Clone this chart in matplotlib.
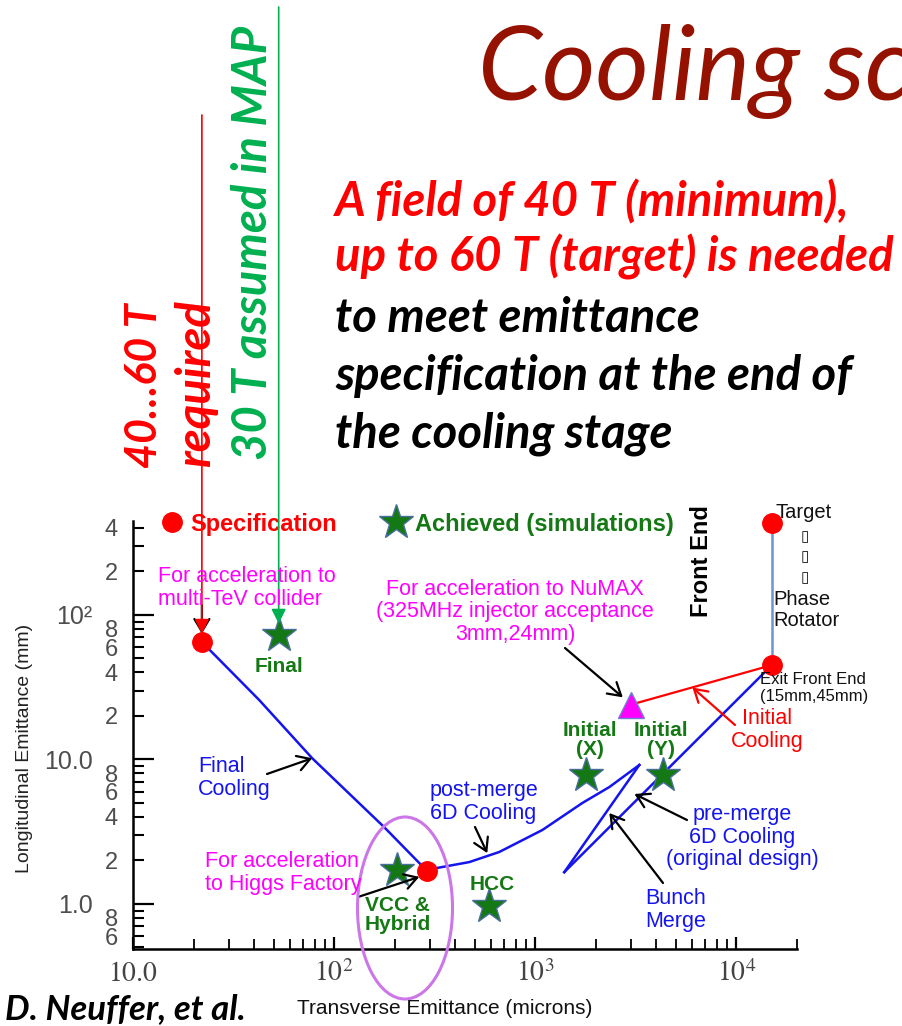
import numpy as np
import matplotlib.pyplot as plt
from matplotlib.patches import Ellipse
from matplotlib.ticker import FixedLocator, FixedFormatter

plt.rcParams['mathtext.fontset'] = 'stix'

W, H = 902, 1026

# --- cooling path: transverse emittance (microns) vs longitudinal emittance (mm) ---
front_x = [15000, 15000]          # target -> exit front end (phase rotator)
front_y = [430, 45]
pre_x = [15000, 1393]             # pre-merge 6D cooling
pre_y = [45, 1.66]
merge_x = [1393, 3290]            # bunch merge
merge_y = [1.66, 9.16]
post_x = [3290, 2336, 1714, 1084, 662, 470, 321, 290]   # post-merge 6D cooling
post_y = [9.16, 6.45, 5.0, 3.25, 2.29, 1.95, 1.77, 1.7]
final_x = [290, 271, 177, 77.8, 42.4, 22]               # final cooling
final_y = [1.7, 1.86, 3.41, 10.2, 25.8, 65]
init_x = [15000, 3000]            # initial cooling
init_y = [45, 24]

# specification points (red) and simulated results (green stars)
spec_x = [22, 290, 15000, 15000]
spec_y = [65, 1.7, 45, 430]
sim_x = [53, 206, 590, 1795, 4290]
sim_y = [73, 1.72, 0.97, 7.8, 7.8]
sim_names = ['Final', 'VCC &\nHybrid', 'HCC', 'Initial\n(X)', 'Initial\n(Y)']
sim_offsets = [(0, -32), (0, -45), (3, 21), (4, 35), (-2, 35)]
numax_x, numax_y = 3000, 24

x_major = [10, 100, 1000, 10000]
x_major_labels = ['$10.0$', '$10^2$', '$10^3$', '$10^4$']
y_major = [1, 10, 100]
y_major_labels = ['1.0', '10.0', '10²']

BLUE = '#1414EE'
MAGENTA = '#FF00FF'
GREEN = '#147814'
RED = '#FF0000'
SLIDE = ['Lato', 'DejaVu Sans']
PLOT = ['Liberation Sans', 'DejaVu Sans']


def fx(px):
    return px / W


def fy(py):
    return 1 - py / H


fig = plt.figure(figsize=(W / 100, H / 100), dpi=100)
ax = fig.add_axes([133 / W, 1 - 949 / H, (797 - 133) / W, (949 - 520.6) / H])
ax.set_xscale('log')
ax.set_yscale('log')
ax.set_xlim(10, 2e4)
ax.set_ylim(0.488, 450)

for s in ['top', 'right']:
    ax.spines[s].set_visible(False)
for s in ['left', 'bottom']:
    ax.spines[s].set_linewidth(1.8)

# ticks
x_minor = [m * 10 ** e for e in range(1, 5) for m in range(2, 10) if m * 10 ** e <= 2e4]
ax.xaxis.set_major_locator(FixedLocator(x_major))
ax.xaxis.set_major_formatter(FixedFormatter(x_major_labels))
ax.xaxis.set_minor_locator(FixedLocator(x_minor))
ax.xaxis.set_minor_formatter(FixedFormatter([''] * len(x_minor)))

y_minor = [m * 10.0 ** e for e in range(-1, 3) for m in range(2, 10)
           if 0.488 <= m * 10.0 ** e <= 450]
y_minor_labels = [str(int(round(v / 10 ** np.floor(np.log10(v)))))
                  if int(round(v / 10 ** np.floor(np.log10(v)))) % 2 == 0 else ''
                  for v in y_minor]
ax.yaxis.set_major_locator(FixedLocator(y_major))
ax.yaxis.set_major_formatter(FixedFormatter(y_major_labels))
ax.yaxis.set_minor_locator(FixedLocator(y_minor))
ax.yaxis.set_minor_formatter(FixedFormatter(y_minor_labels))

ax.tick_params(axis='x', which='major', direction='in', length=9, width=1.6,
               labelsize=20, pad=7, labelcolor='#444444')
ax.tick_params(axis='x', which='minor', direction='in', length=7, width=1.3)
ax.tick_params(axis='y', which='major', direction='in', length=15, width=1.6,
               labelsize=18, pad=29, labelcolor='#4d4d4d')
ax.tick_params(axis='y', which='minor', direction='in', length=8, width=1.5,
               labelsize=17, pad=11, labelcolor='#4d4d4d')
for lab in ax.get_yticklabels(which='both'):
    lab.set_family(PLOT)

# cooling path
ax.plot(front_x, front_y, color='#6F93CC', lw=1.8, zorder=2, clip_on=False)
for xs, ys in [(pre_x, pre_y), (merge_x, merge_y), (post_x, post_y), (final_x, final_y)]:
    ax.plot(xs, ys, color=BLUE, lw=1.8, zorder=3)
ax.plot(init_x, init_y, color=RED, lw=1.6, zorder=3)

spec, = ax.plot(spec_x, spec_y, 'o', ls='none', color=RED, ms=14, zorder=6,
                clip_on=False, label='Specification')
stars, = ax.plot(sim_x, sim_y, '*', ls='none', mfc=GREEN, mec='#4a6e9c', mew=1.0,
                 ms=26, zorder=5, clip_on=False, label='Achieved (simulations)')
ax.plot([numax_x], [numax_y], '^', ls='none', mfc=MAGENTA, mec='#7080d0', mew=1.0,
        ms=18.5, zorder=5)

for name, x, y, off in zip(sim_names, sim_x, sim_y, sim_offsets):
    ax.annotate(name, (x, y), xytext=off, textcoords='offset pixels', ha='center',
                va='center', color=GREEN, fontsize=15, fontweight='bold',
                family=PLOT, linespacing=1.05, zorder=7)

leg = ax.legend(handles=[spec, stars], loc='center left', ncol=2,
                bbox_to_anchor=(fx(160), fy(524)), bbox_transform=fig.transFigure,
                frameon=False, borderpad=0, borderaxespad=0, handlelength=1.0,
                handletextpad=0.3, columnspacing=2.0, labelcolor='markerfacecolor',
                prop={'family': PLOT, 'weight': 'bold', 'size': 17})

# annotation arrows
arrow = dict(arrowstyle='->,head_length=0.5,head_width=0.3', color='black', lw=1.6,
             mutation_scale=18, shrinkA=0, shrinkB=0)
arrows = [
    ((77.8, 10.2), (267, 774)),    # final cooling
    ((577, 2.25), (475, 827)),     # post-merge
    ((3111, 5.77), (687, 820)),    # pre-merge
    ((2334, 4.26), (663, 883)),    # bunch merge
    ((265, 1.54), (358, 897)),     # Higgs factory
]
for tip, tail in arrows:
    ax.annotate('', xy=tip, xytext=(fx(tail[0]), fy(tail[1])),
                textcoords='figure fraction', arrowprops=arrow, zorder=6)
ax.annotate('', xy=(numax_x, numax_y), xytext=(fx(565), fy(648)),
            textcoords='figure fraction', arrowprops=dict(arrow, shrinkB=8))
ax.annotate('', xy=(6040, 31.5), xytext=(fx(735), fy(725)),
            textcoords='figure fraction',
            arrowprops=dict(arrow, color=RED))
ax.annotate('', xy=(22, 65), xytext=(22, fy(605)),
            textcoords=('data', 'figure fraction'), arrowprops=dict(arrow, shrinkB=6))
ax.annotate('', xy=(22, 65), xytext=(22, fy(115)), textcoords=('data', 'figure fraction'),
            arrowprops=dict(arrowstyle='-|>', color=RED, lw=1.2, mutation_scale=22,
                            shrinkA=0, shrinkB=6), zorder=8, annotation_clip=False)
ax.annotate('', xy=(53, 73), xytext=(53, fy(7)), textcoords=('data', 'figure fraction'),
            arrowprops=dict(arrowstyle='-|>', color='#00B050', lw=1.2, mutation_scale=22,
                            shrinkA=0, shrinkB=8), zorder=8, annotation_clip=False)

# plot labels
def ptext(px, py, s, **kw):
    kw.setdefault('family', PLOT)
    kw.setdefault('fontsize', 15.5)
    kw.setdefault('va', 'center')
    kw.setdefault('linespacing', 1.1)
    fig.text(fx(px), fy(py), s, **kw)


ptext(158, 588, 'For acceleration to\nmulti-TeV collider', color=MAGENTA, ha='left')
ptext(515, 612, 'For acceleration to NuMAX\n(325MHz injector acceptance\n3mm,24mm)',
      color=MAGENTA, ha='center', multialignment='center')
ptext(205, 873, 'For acceleration\nto Higgs Factory', color=MAGENTA, ha='left')
ptext(198, 778, 'Final\nCooling', color=BLUE, ha='left')
ptext(430, 802, 'post-merge\n6D Cooling', color=BLUE, ha='left')
ptext(742, 837, 'pre-merge\n6D Cooling\n(original design)', color=BLUE, ha='center',
      multialignment='center')
ptext(645, 910, 'Bunch\nMerge', color=BLUE, ha='left')
ptext(767, 730, 'Initial\nCooling', color=RED, ha='center', multialignment='center')
ptext(775, 512, 'Target', color='#111111', ha='left', fontsize=14.5)
ptext(805, 557, '▯\n▯\n▯', color='#111111', ha='center', fontsize=11, linespacing=1.45,
      family=['DejaVu Sans'])
ptext(773, 610, 'Phase\nRotator', color='#111111', ha='left', fontsize=14.5)
ptext(760, 688, 'Exit Front End\n(15mm,45mm)', color='#111111', ha='left', fontsize=12)
ptext(701, 561, 'Front End', color='black', ha='center', rotation=90, fontsize=17,
      fontweight='bold')
ptext(445, 1008, 'Transverse Emittance (microns)', color='#111111', ha='center',
      fontsize=15)
ptext(25, 748, 'Longitudinal Emittance (mm)', color='#222222', ha='center',
      rotation=90, fontsize=14)

fig.add_artist(Ellipse((fx(405), fy(908)), 95 / W, 182 / H, transform=fig.transFigure,
                       fill=False, ec='#CC77E8', lw=2.2, zorder=1))

# slide text
fig.text(fx(478), fy(100), 'Cooling sc', family=SLIDE, style='italic', fontsize=74,
         color='#961200', va='baseline', ha='left')
body = [('A field of 40 T (minimum),', RED, 217),
        ('up to 60 T (target) is needed', RED, 272),
        ('to meet emittance', 'black', 332),
        ('specification at the end of', 'black', 390),
        ('the cooling stage', 'black', 447)]
for line, col, base in body:
    fig.text(fx(335), fy(base), line, family=SLIDE, style='italic', fontweight='bold',
             fontsize=34, color=col, va='baseline', ha='left')

for s, col, px, py, size in [('40…60 T', RED, 157, 468, 31),
                             ('required', RED, 210, 467, 34),
                             ('30 T assumed in MAP', '#00B050', 267, 460, 34)]:
    fig.text(fx(px), fy(py), s, family=SLIDE, style='italic', fontweight='bold',
             fontsize=size, color=col, rotation=90, rotation_mode='anchor',
             ha='left', va='baseline')

fig.text(fx(5), fy(1019), 'D. Neuffer, et al.', family=SLIDE, style='italic',
         fontweight='bold', fontsize=25, color='black', va='baseline', ha='left')

fig.savefig('out.png', dpi=100)
